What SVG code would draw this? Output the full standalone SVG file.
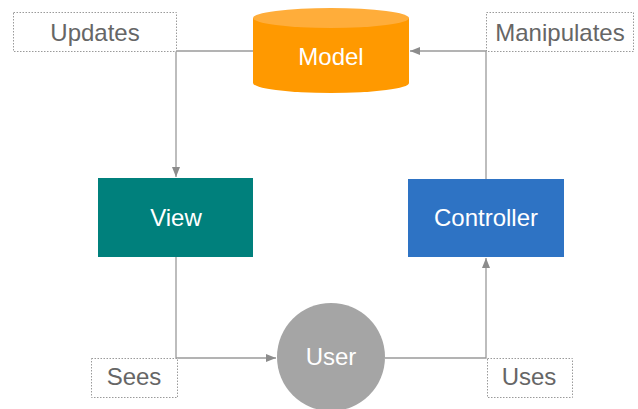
<svg xmlns="http://www.w3.org/2000/svg" width="638" height="409" viewBox="0 0 638 409">
<defs>
<marker id="arr" viewBox="0 0 10 10" refX="10" refY="5" markerWidth="10" markerHeight="10" markerUnits="userSpaceOnUse" orient="auto">
<path d="M0,1 L10,5 L0,9 Z" fill="#8c8c8c"/>
</marker>
</defs>
<style>
.lbl{fill:#fff;stroke:#9a9a9a;stroke-width:1;stroke-dasharray:1.5 1.5}
.lt{font-family:"Liberation Sans",Arial,sans-serif;font-size:24px;fill:#666;text-anchor:middle}
.nt{font-family:"Liberation Sans",Arial,sans-serif;font-size:24px;fill:#fff;text-anchor:middle}
.c{fill:none;stroke:#9a9a9a;stroke-width:1.3}
</style>
<rect width="638" height="409" fill="#fff"/>
<g id="connectors">
<path class="c" d="M253,51 H176 V177" marker-end="url(#arr)"/>
<path class="c" d="M486,179 V51 H410" marker-end="url(#arr)"/>
<path class="c" d="M176,257 V358 H276" marker-end="url(#arr)"/>
<path class="c" d="M385,358 H486 V258" marker-end="url(#arr)"/>
</g>
<g id="label-updates">
<rect class="lbl" x="13.5" y="12.5" width="163" height="39"/>
<text class="lt" x="95" y="41">Updates</text>
</g>
<g id="label-manipulates">
<rect class="lbl" x="486.5" y="12.5" width="147" height="39"/>
<text class="lt" x="560" y="41">Manipulates</text>
</g>
<g id="label-sees">
<rect class="lbl" x="91.5" y="358.5" width="86" height="39"/>
<text class="lt" x="134" y="385">Sees</text>
</g>
<g id="label-uses">
<rect class="lbl" x="487.5" y="358.5" width="85" height="39"/>
<text class="lt" x="529" y="385">Uses</text>
</g>
<g id="model">
<path d="M253,18 V83 A78,10 0 0 0 409,83 V18 Z" fill="#ff9900"/>
<ellipse cx="331" cy="18" rx="78" ry="10" fill="#ffad3a"/>
<text class="nt" x="331" y="65">Model</text>
</g>
<g id="view">
<rect x="98" y="178" width="155" height="79" fill="#00807c"/>
<text class="nt" x="176" y="226" fill="#e8f8f8">View</text>
</g>
<g id="controller">
<rect x="408" y="179" width="156" height="78" fill="#2e73c4"/>
<text class="nt" x="486" y="226">Controller</text>
</g>
<g id="user">
<circle cx="331" cy="357" r="54" fill="#a5a5a5"/>
<text class="nt" x="331" y="365">User</text>
</g>
</svg>
